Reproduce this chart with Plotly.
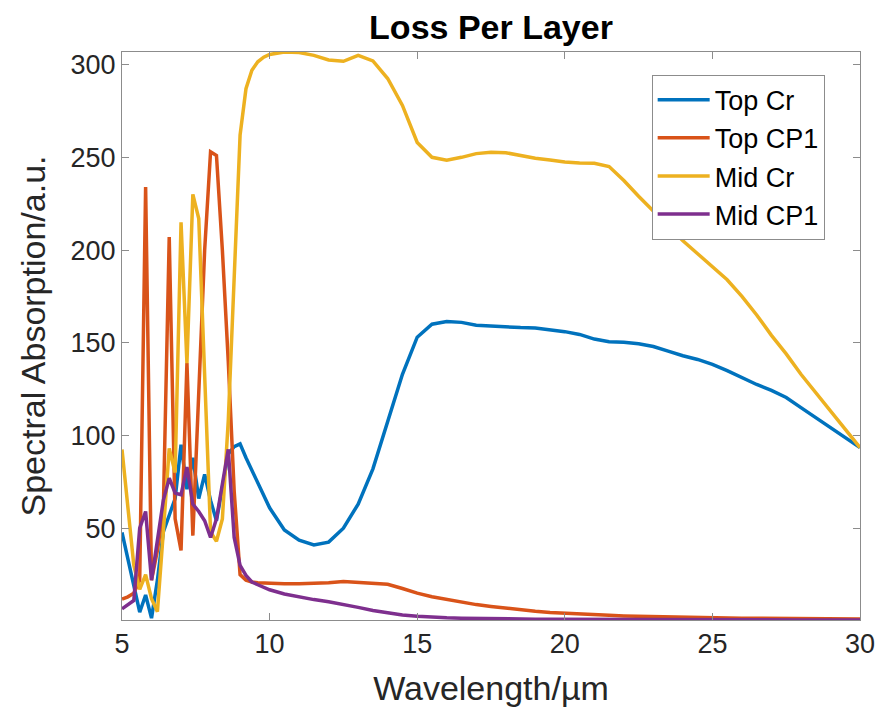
import plotly.graph_objects as go

# Wavelength grid (µm): fine steps through the absorption bands, coarser after 10 µm
wavelength = [
    5.0, 5.2, 5.4, 5.6, 5.8, 6.0, 6.2, 6.4, 6.6, 6.8, 7.0, 7.2, 7.4, 7.6, 7.8,
    8.0, 8.2, 8.4, 8.6, 8.8, 9.0, 9.2, 9.4, 9.6, 9.8, 10.0,
    10.5, 11.0, 11.5, 12.0, 12.5, 13.0, 13.5, 14.0, 14.5, 15.0, 15.5, 16.0,
    16.5, 17.0, 17.5, 18.0, 18.5, 19.0, 19.5, 20.0, 20.5, 21.0, 21.5, 22.0,
    22.5, 23.0, 23.5, 24.0, 24.5, 25.0, 25.5, 26.0, 26.5, 27.0, 27.5, 28.0,
    28.5, 29.0, 29.5, 30.0,
]

top_cr = [
    47.7, 33, 19, 4.7, 14, 1.5, 22, 48, 57, 66, 95, 71, 88, 66, 79,
    65, 54, 72, 90, 94, 95.5, 88, 81, 74, 67, 61,
    49, 43.5, 41, 42.5, 50, 63, 82, 108, 133, 153, 160, 161.5,
    161, 159.5, 159, 158.5, 158.2, 158, 157, 156, 154.5, 152, 150.5, 150.3,
    149.5, 148, 145.5, 143, 141, 138.3, 135, 131, 127.5, 124.3, 120.5, 115,
    109.5, 104, 99, 93.5,
]

top_cp1 = [
    11.8, 13, 15, 22, 234, 22, 38, 60, 207, 55, 38, 139, 46, 120, 200,
    253, 251, 200, 140, 70, 25, 22, 21, 20.6, 20.4, 20.2,
    20, 20, 20.2, 20.6, 21.2, 20.7, 20.5, 19.8, 17.5, 15, 13, 11.5,
    10, 8.8, 7.8, 6.8, 6, 5.2, 4.6, 4.1, 3.7, 3.3, 3, 2.7,
    2.5, 2.3, 2.1, 1.9, 1.8, 1.7, 1.6, 1.5, 1.45, 1.4, 1.35, 1.3,
    1.25, 1.2, 1.15, 1.1,
]

mid_cr = [
    92.5, 60, 30, 17, 25, 12, 5, 48, 93, 80, 215, 139, 230, 217, 130,
    48, 43, 55, 108, 180, 262, 287, 297, 301.5, 304, 305.5,
    306.8, 306.5, 305, 302.5, 301.8, 305, 302, 292.5, 278, 258, 250, 248.5,
    250, 252, 252.8, 252.5, 251, 249.5, 248.5, 247.5, 247, 246.8, 245, 237.5,
    229, 221, 213, 205, 198, 191, 184, 175, 165, 154, 144, 133,
    123, 113, 103, 93.5,
]

mid_cp1 = [
    6.5, 9, 11, 50, 59, 22, 44, 65, 77, 69, 68, 83, 63, 59, 54,
    45, 55, 75, 92.5, 45, 30, 24.5, 21, 19.5, 18, 16.8,
    14.5, 12.8, 11.5, 10.3, 9, 7.3, 5.6, 4.2, 3.2, 2.5, 2.0, 1.7,
    1.5, 1.3, 1.2, 1.1, 1.0, 0.95, 0.9, 0.85, 0.8, 0.78, 0.75, 0.72,
    0.7, 0.68, 0.66, 0.64, 0.62, 0.6, 0.58, 0.57, 0.56, 0.55, 0.54, 0.53,
    0.52, 0.51, 0.5, 0.5,
]

series_names = ["Top Cr", "Top CP1", "Mid Cr", "Mid CP1"]
series_values = [top_cr, top_cp1, mid_cr, mid_cp1]
series_colors = ["#0072BD", "#D95319", "#EDB120", "#7E2F8E"]

x_ticks = [5, 10, 15, 20, 25, 30]
y_ticks = [50, 100, 150, 200, 250, 300]

FONT = "Liberation Sans, Arial, Helvetica, sans-serif"
AXIS_GREY = "#8c8c8c"
TEXT_DARK = "#262626"

fig = go.Figure()
for name, vals, color in zip(series_names, series_values, series_colors):
    fig.add_trace(go.Scatter(
        x=wavelength, y=vals, mode="lines", name=name,
        line=dict(color=color, width=3.5),
    ))

all_vals = [v for s in series_values for v in s]
y_lo, y_hi = min(all_vals), max(all_vals)

axis_common = dict(
    showline=True, linecolor=AXIS_GREY, linewidth=1, mirror="ticks",
    ticks="inside", ticklen=7, tickcolor=AXIS_GREY, tickwidth=1,
    showgrid=False, zeroline=False,
    tickfont=dict(family=FONT, size=27, color=TEXT_DARK),
)

fig.update_xaxes(
    range=[5, 30], tickvals=x_ticks, ticktext=[str(t) for t in x_ticks],
    title=dict(text="Wavelength/µm", font=dict(family=FONT, size=34, color=TEXT_DARK), standoff=17),
    **axis_common,
)
fig.update_yaxes(
    range=[y_lo, y_hi], tickvals=y_ticks, ticktext=[str(t) for t in y_ticks],
    title=dict(text="Spectral Absorption/a.u.", font=dict(family=FONT, size=34, color=TEXT_DARK), standoff=14),
    **axis_common,
)

fig.update_layout(
    width=887, height=716,
    margin=dict(l=122, r=21, t=52, b=96),
    paper_bgcolor="white", plot_bgcolor="white",
    title=dict(
        text="<b>Loss Per Layer</b>", x=0.5, xref="paper", xanchor="center",
        y=1 - 27 / 716, yref="container", yanchor="middle",
        font=dict(family=FONT, size=34, color="black"),
    ),
    legend=dict(
        x=0.7177, y=0.96, xanchor="left", yanchor="top",
        bgcolor="white", bordercolor=AXIS_GREY, borderwidth=1,
        font=dict(family=FONT, size=27, color="black"),
        tracegroupgap=0, itemwidth=52,
    ),
    showlegend=True,
)

fig.write_html("out.html")
